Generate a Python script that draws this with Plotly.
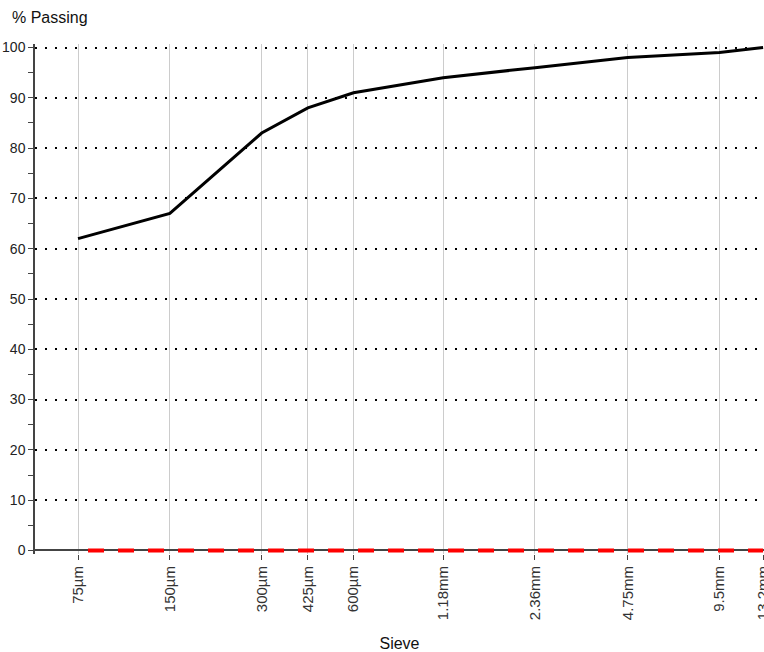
import math
import plotly.graph_objects as go

sieve_mm = [0.075, 0.15, 0.3, 0.425, 0.6, 1.18, 2.36, 4.75, 9.5, 13.2]
sieve_labels = ["75µm", "150µm", "300µm", "425µm", "600µm", "1.18mm", "2.36mm", "4.75mm", "9.5mm", "13.2mm"]
passing = [62, 67, 83, 88, 91, 94, 96, 98, 99, 100]
zero_line = [0, 0, 0, 0, 0, 0, 0, 0, 0, 0]

fig = go.Figure()
fig.add_trace(go.Scatter(x=sieve_mm, y=zero_line, mode="lines",
                         line=dict(color="#ff0000", width=4, dash="0px,10px,16px,4px"),
                         showlegend=False, hoverinfo="skip"))
fig.add_trace(go.Scatter(x=sieve_mm, y=passing, mode="lines",
                         line=dict(color="#000000", width=3),
                         showlegend=False))

fig.update_layout(
    width=764, height=652,
    margin=dict(l=35, r=0, t=44, b=98),
    plot_bgcolor="white", paper_bgcolor="white",
    font=dict(family="Liberation Sans, Arial, sans-serif", size=12, color="#333"),
    annotations=[dict(text="% Passing", xref="paper", yref="paper", x=-0.0343, y=1.051,
                      xanchor="left", yanchor="middle", showarrow=False,
                      font=dict(size=16, color="#111"))],
)
fig.update_xaxes(
    type="log",
    range=[math.log10(sieve_mm[0]) - 0.141, math.log10(sieve_mm[-1]) + 0.003],
    tickmode="array", tickvals=sieve_mm, ticktext=sieve_labels,
    tickangle=-90, ticks="outside", ticklen=5, tickcolor="#444",
    ticklabeloverflow="allow", automargin=False,
    showgrid=True, gridcolor="#cccccc", gridwidth=1,
    showline=False,
    zeroline=False,
    title=dict(text="Sieve", font=dict(size=16, color="#111"), standoff=28),
    tickfont=dict(size=15, color="#333"),
)
fig.update_yaxes(
    range=[-0.7, 100.7],
    tickmode="array", tickvals=list(range(0, 101, 10)),
    ticks="outside", ticklen=5, tickcolor="#444",
    minor=dict(tickvals=list(range(5, 100, 10)), ticks="outside", ticklen=5, tickcolor="#444", showgrid=False),
    showgrid=True, gridcolor="#000000", gridwidth=2, griddash="2px,8px",
    showline=True, linecolor="#444", linewidth=1.5,
    zeroline=True, zerolinecolor="#444", zerolinewidth=1.5,
    automargin=False,
    tickfont=dict(size=14, color="#222"),
)

fig.write_html("out.html", config={"displayModeBar": False},
               post_script="document.body.style.margin='0';")
